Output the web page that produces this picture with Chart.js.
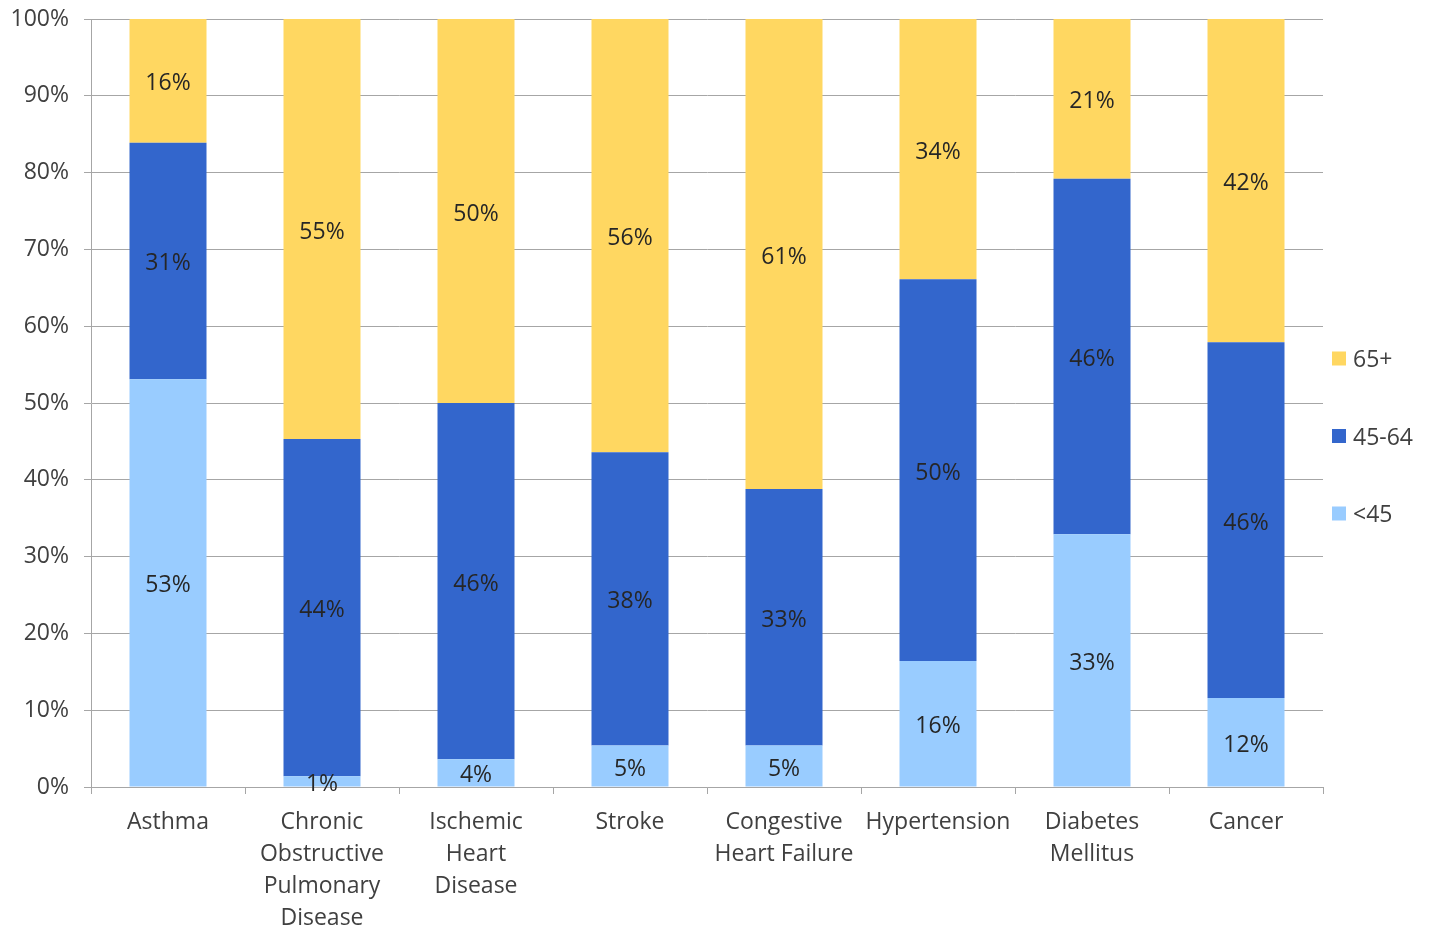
<!DOCTYPE html>
<html>
<head>
<meta charset="utf-8">
<script src="https://cdn.jsdelivr.net/npm/chart.js@4.4.1/dist/chart.umd.min.js"></script>
<style>
    html, body { margin: 0; padding: 0; background: #ffffff; }
    #Wrap { width: 1433px; height: 930px; }
</style>
</head>
<body>
<div id="Wrap"><canvas id="Main_Chart" width="1433" height="930"></canvas></div>
<script>
const Categories = [
    "Asthma",
    ["Chronic", "Obstructive", "Pulmonary", "Disease"],
    ["Ischemic", "Heart", "Disease"],
    "Stroke",
    ["Congestive", "Heart Failure"],
    "Hypertension",
    ["Diabetes", "Mellitus"],
    "Cancer"
];
const Under_45 = [53.1, 1.4, 3.6, 5.4, 5.4, 16.4, 32.9, 11.6];
const Age_45_64 = [30.8, 43.9, 46.4, 38.2, 33.4, 49.7, 46.3, 46.3];
const Age_65_Plus = [16.1, 54.7, 50.0, 56.4, 61.2, 33.9, 20.8, 42.1];
const Series_Names = ["<45", "45-64", "65+"];
const Series_Colors = ["#99CCFF", "#3366CC", "#FFD761"];

const Font_Family = "'Open Sans', 'Noto Sans', sans-serif";
const Font_Size = 23;
const Grid_Color = "#A6A6A6";
const Text_Color = "#404040";

// draws the rounded % inside each bar segment
const Bar_Label_Plugin = {
    id: "bar_labels",
    afterDatasetsDraw(chart) {
        const Ctx = chart.ctx;
        Ctx.save();
        Ctx.font = Font_Size + "px " + Font_Family;
        Ctx.fillStyle = "#262626";
        Ctx.textAlign = "center";
        Ctx.textBaseline = "middle";
        chart.data.datasets.forEach(function (Ds, i) {
            const Meta = chart.getDatasetMeta(i);
            Meta.data.forEach(function (Bar, j) {
                const Mid = (Bar.y + Bar.base) / 2 + 3;
                Ctx.fillText(Math.round(Ds.data[j]) + "%", Bar.x, Mid);
            });
        });
        Ctx.restore();
    }
};

// legend on the right, top series first
const Side_Legend_Plugin = {
    id: "side_legend",
    afterDraw(chart) {
        const Ctx = chart.ctx;
        const Area = chart.chartArea;
        const Left = Area.right + 9;
        const Center_Y = 436;
        const Step = 77.5;
        Ctx.save();
        Ctx.font = Font_Size + "px " + Font_Family;
        Ctx.textBaseline = "middle";
        Ctx.textAlign = "left";
        for (let k = 0; k < 3; k++) {
            const Idx = 2 - k;
            const Y = Center_Y + (k - 1) * Step;
            Ctx.fillStyle = Series_Colors[Idx];
            Ctx.fillRect(Left, Y - 7, 14, 14);
            Ctx.fillStyle = Text_Color;
            Ctx.fillText(Series_Names[Idx], Left + 21, Y + 2);
        }
        Ctx.restore();
    }
};

const Main_Chart_Config = {
    type: "bar",
    data: {
        labels: Categories,
        datasets: [
            { label: Series_Names[0], data: Under_45, backgroundColor: Series_Colors[0] },
            { label: Series_Names[1], data: Age_45_64, backgroundColor: Series_Colors[1] },
            { label: Series_Names[2], data: Age_65_Plus, backgroundColor: Series_Colors[2] }
        ]
    },
    options: {
        responsive: false,
        animation: false,
        datasets: { bar: { categoryPercentage: 1.0, barPercentage: 0.5, borderWidth: 0 } },
        layout: { padding: { left: 0, right: 110, top: 19, bottom: 0 } },
        plugins: {
            legend: { display: false },
            tooltip: { enabled: false }
        },
        scales: {
            x: {
                stacked: true,
                grid: { offset: true, drawOnChartArea: false, drawTicks: true, tickLength: 7, color: Grid_Color },
                border: { color: Grid_Color, width: 1 },
                ticks: {
                    color: Text_Color,
                    font: { family: Font_Family, size: Font_Size, lineHeight: 1.4 },
                    padding: 12,
                    maxRotation: 0,
                    autoSkip: false
                },
                afterFit: function (Scale) {
                    Scale.height = 143;
                    Scale.paddingLeft = 0;
                    Scale.paddingRight = 0;
                }
            },
            y: {
                stacked: true,
                min: 0,
                max: 100,
                grid: { color: Grid_Color, tickLength: 7 },
                border: { color: Grid_Color, width: 1 },
                ticks: {
                    stepSize: 10,
                    color: Text_Color,
                    padding: 15,
                    font: { family: Font_Family, size: Font_Size },
                    callback: function (V) { return V + "%"; }
                },
                afterFit: function (Scale) {
                    Scale.width = 91;
                    Scale.paddingTop = 0;
                    Scale.paddingBottom = 0;
                }
            }
        }
    },
    plugins: [Bar_Label_Plugin, Side_Legend_Plugin]
};

new Chart(document.getElementById("Main_Chart"), Main_Chart_Config);
</script>
</body>
</html>
